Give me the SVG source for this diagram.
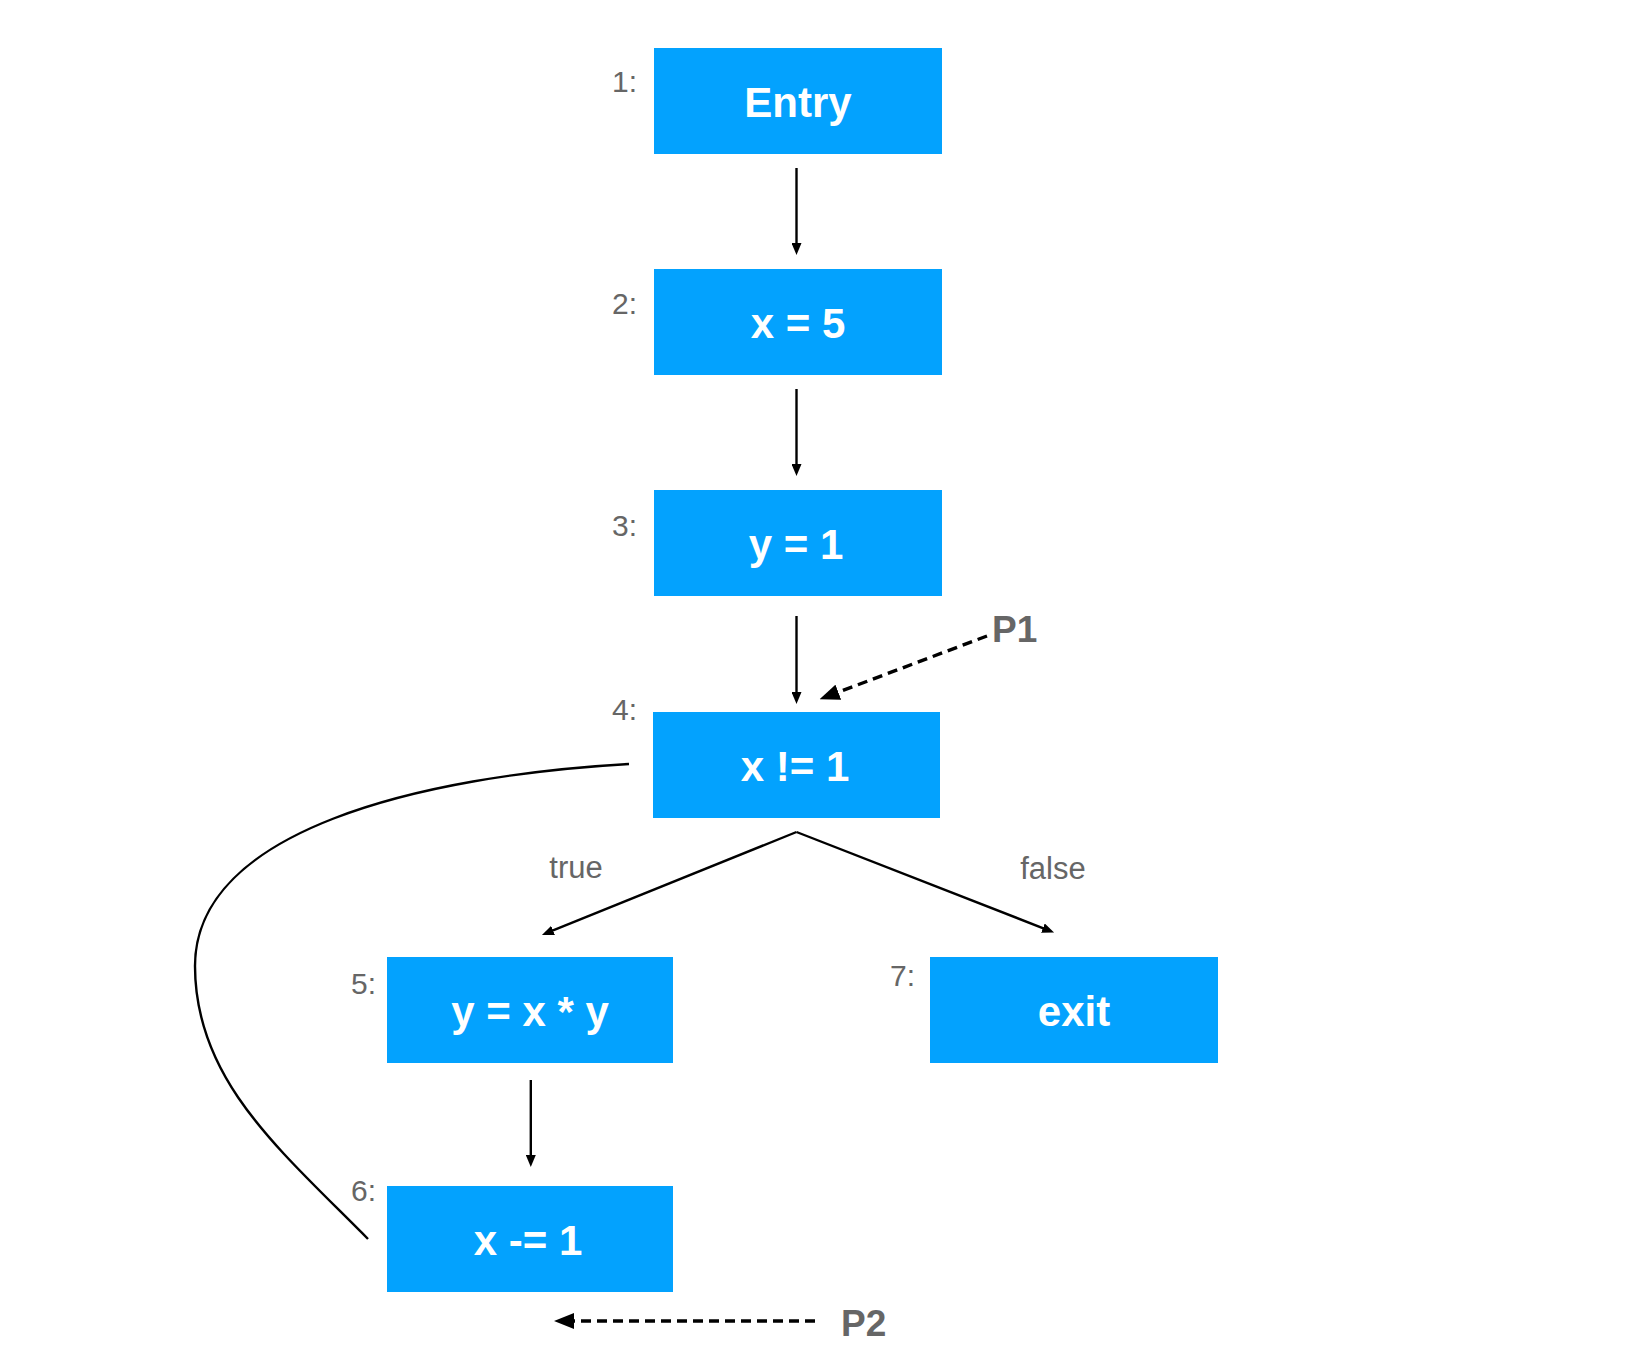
<svg xmlns="http://www.w3.org/2000/svg" width="1632" height="1366" viewBox="0 0 1632 1366">
<defs>
<style>
.box{fill:#03A2FE}
.bt{font-family:"Liberation Sans",Arial,sans-serif;font-weight:bold;font-size:42px;fill:#fff;text-anchor:middle}
.lbl{font-family:"Liberation Sans",Arial,sans-serif;font-size:30px;fill:#666;text-anchor:end}
.el{font-family:"Liberation Sans",Arial,sans-serif;font-size:31px;fill:#666;text-anchor:middle}
.pl{font-family:"Liberation Sans",Arial,sans-serif;font-weight:bold;font-size:37px;fill:#666}
.ln{stroke:#000;stroke-width:2.4;fill:none}
.dash{stroke:#000;stroke-width:3.4;fill:none;stroke-dasharray:10 6}
</style>
<marker id="ah" markerUnits="userSpaceOnUse" markerWidth="12" markerHeight="10" refX="6" refY="5" orient="auto">
<path d="M0,0 L12,5 L0,10 z" fill="#000"/>
</marker>
<marker id="ahb" markerUnits="userSpaceOnUse" markerWidth="20" markerHeight="16" refX="8" refY="8" orient="auto">
<path d="M0,0 L20,8 L0,16 z" fill="#000"/>
</marker>
</defs>
<g id="connectors">
<line class="ln" x1="796.5" y1="168" x2="796.5" y2="249" marker-end="url(#ah)"/>
<line class="ln" x1="796.5" y1="389" x2="796.5" y2="470" marker-end="url(#ah)"/>
<line class="ln" x1="796.5" y1="616" x2="796.5" y2="698" marker-end="url(#ah)"/>
<line class="ln" x1="796.5" y1="832" x2="547.5" y2="932.7" marker-end="url(#ah)"/>
<line class="ln" x1="796.5" y1="832" x2="1048.5" y2="930.3" marker-end="url(#ah)"/>
<line class="ln" x1="530.8" y1="1080" x2="530.8" y2="1161" marker-end="url(#ah)"/>
<path class="ln" d="M629,764 C420,776 195,830 195,966 C195,1080 280,1150 368,1239"/>
<line class="dash" x1="987" y1="636" x2="830.8" y2="695" marker-end="url(#ahb)"/>
<line class="dash" x1="815" y1="1321" x2="566" y2="1321" marker-end="url(#ahb)"/>
<text class="el" x="576" y="878">true</text>
<text class="el" x="1053" y="879">false</text>
<text class="pl" x="992" y="642">P1</text>
<text class="pl" x="841" y="1336">P2</text>
</g>
<g id="n1">
<rect class="box" x="654" y="48" width="288" height="106"/>
<text class="bt" x="798" y="117">Entry</text>
<text class="lbl" x="637" y="92">1:</text>
</g>
<g id="n2">
<rect class="box" x="654" y="269" width="288" height="106"/>
<text class="bt" x="798" y="338">x = 5</text>
<text class="lbl" x="637" y="314">2:</text>
</g>
<g id="n3">
<rect class="box" x="654" y="490" width="288" height="106"/>
<text class="bt" x="796" y="559">y = 1</text>
<text class="lbl" x="637" y="536">3:</text>
</g>
<g id="n4">
<rect class="box" x="653" y="712" width="287" height="106"/>
<text class="bt" x="795" y="781">x != 1</text>
<text class="lbl" x="637" y="720">4:</text>
</g>
<g id="n5">
<rect class="box" x="387" y="957" width="286" height="106"/>
<text class="bt" x="530" y="1026">y = x * y</text>
<text class="lbl" x="376" y="994">5:</text>
</g>
<g id="n6">
<rect class="box" x="387" y="1186" width="286" height="106"/>
<text class="bt" x="528" y="1255">x -= 1</text>
<text class="lbl" x="376" y="1201">6:</text>
</g>
<g id="n7">
<rect class="box" x="930" y="957" width="288" height="106"/>
<text class="bt" x="1074" y="1026">exit</text>
<text class="lbl" x="915" y="986">7:</text>
</g>
</svg>
